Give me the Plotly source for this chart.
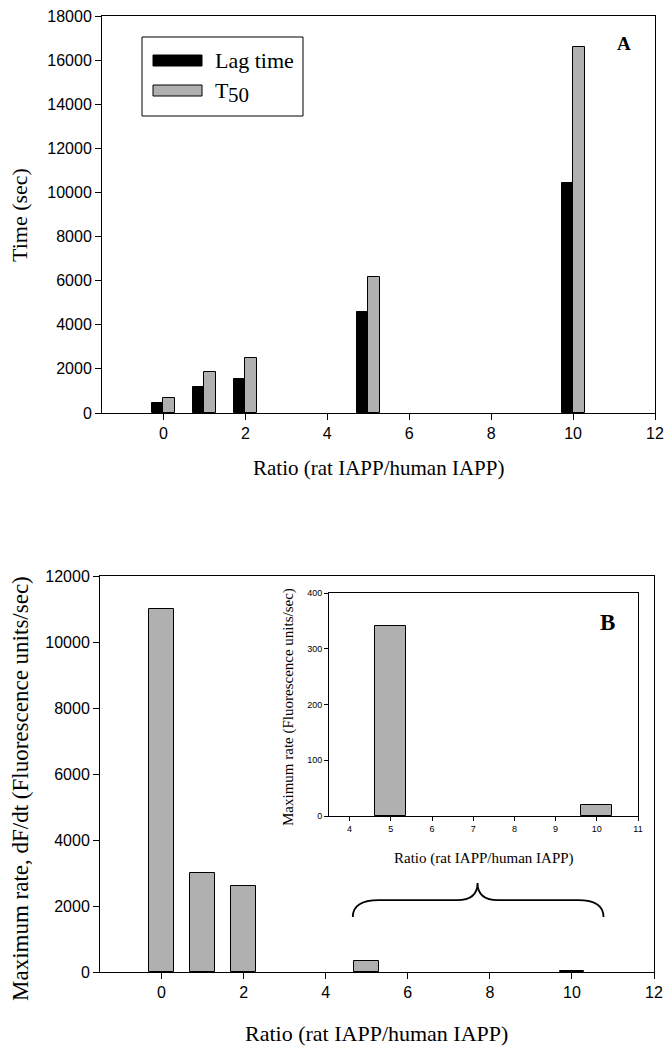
import plotly.graph_objects as go

# panel A data
ratios_a = [0, 1, 2, 5, 10]
lag_time = [470, 1180, 1540, 4600, 10420]
t50 = [680, 1860, 2490, 6150, 16600]

# panel B data
ratios_b = [0, 1, 2, 5, 10]
max_rate = [11000, 3000, 2600, 340, 20]

# inset data
ratios_inset = [5, 10]
max_rate_inset = [340, 20]

W, H = 672, 1050
SANS = "Liberation Sans, Arial, sans-serif"
SERIF = "Liberation Serif, Times New Roman, serif"
GRAY = "#b0b0b0"


def px(x):
    return x / W


def py(y):
    return 1 - y / H


fig = go.Figure()

fig.add_trace(go.Bar(
    x=ratios_a, y=lag_time, name="Lag time",
    width=0.28, offset=-0.28,
    marker=dict(color="black", line=dict(color="black", width=1)),
    xaxis="x", yaxis="y", showlegend=False
))
fig.add_trace(go.Bar(
    x=ratios_a, y=t50, name="T50",
    width=0.28, offset=0,
    marker=dict(color=GRAY, line=dict(color="black", width=1)),
    xaxis="x", yaxis="y", showlegend=False
))
fig.add_trace(go.Bar(
    x=ratios_b, y=max_rate, width=0.6,
    marker=dict(color=GRAY, line=dict(color="black", width=1)),
    xaxis="x2", yaxis="y2", showlegend=False
))
fig.add_trace(go.Bar(
    x=ratios_inset, y=max_rate_inset, width=0.75,
    marker=dict(color=GRAY, line=dict(color="black", width=1)),
    xaxis="x3", yaxis="y3", showlegend=False
))

axis_style = dict(
    showline=True, linecolor="black", linewidth=1, mirror=True,
    ticks="outside", ticklen=6, tickcolor="black",
    showgrid=False, zeroline=False, automargin=False,
    tickformat="d",
    tickfont=dict(family=SANS, size=16, color="black"),
)
inset_style = dict(axis_style, ticklen=4,
                   tickfont=dict(family=SANS, size=9, color="black"))

fig.update_layout(
    width=W, height=H,
    margin=dict(l=0, r=0, t=0, b=0, pad=0),
    paper_bgcolor="white", plot_bgcolor="white",
    bargap=0,
    xaxis=dict(axis_style, domain=[px(102), px(655)], range=[-1.5, 12],
               tickvals=[0, 2, 4, 6, 8, 10, 12], anchor="y"),
    yaxis=dict(axis_style, domain=[py(413), py(16)], range=[0, 18000],
               dtick=2000, anchor="x"),
    xaxis2=dict(axis_style, domain=[px(100), px(654)], range=[-1.5, 12],
                tickvals=[0, 2, 4, 6, 8, 10, 12], anchor="y2"),
    yaxis2=dict(axis_style, domain=[py(972), py(576)], range=[0, 12000],
                dtick=2000, anchor="x2"),
    xaxis3=dict(inset_style, domain=[px(329), px(638)], range=[3.5, 11],
                dtick=1, anchor="y3"),
    yaxis3=dict(inset_style, domain=[py(816), py(593)], range=[0, 400],
                dtick=100, anchor="x3"),
)

annotations = [
    dict(x=px(378), y=py(468), text="Ratio (rat IAPP/human IAPP)",
         font=dict(family=SERIF, size=21)),
    dict(x=px(20), y=py(215), text="Time (sec)", textangle=-90,
         font=dict(family=SERIF, size=22)),
    dict(x=px(376), y=py(1033), text="Ratio (rat IAPP/human IAPP)",
         font=dict(family=SERIF, size=22)),
    dict(x=px(20), y=py(789), text="Maximum rate, dF/dt (Fluorescence units/sec)",
         textangle=-90, font=dict(family=SERIF, size=23)),
    dict(x=px(484), y=py(858), text="Ratio (rat IAPP/human IAPP)",
         font=dict(family=SERIF, size=15)),
    dict(x=px(288), y=py(707), text="Maximum rate (Fluorescence units/sec)",
         textangle=-90, font=dict(family=SERIF, size=15)),
    dict(x=px(624), y=py(44), text="<b>A</b>", font=dict(family=SERIF, size=19)),
    dict(x=px(607), y=py(622), text="<b>B</b>", font=dict(family=SERIF, size=23)),
    dict(x=px(213), y=py(61), text="Lag time", xanchor="left",
         font=dict(family=SERIF, size=22)),
    dict(x=px(213), y=py(90), text="T", xanchor="left",
         font=dict(family=SERIF, size=22)),
    dict(x=px(226), y=py(95), text="50", xanchor="left",
         font=dict(family=SERIF, size=21)),
]
for a in annotations:
    a.setdefault("xanchor", "center")
    fig.add_annotation(xref="paper", yref="paper", showarrow=False,
                       yanchor="middle", font_color="black", **a)

# legend box and swatches
fig.add_shape(type="rect", xref="paper", yref="paper",
              x0=px(142), x1=px(303), y0=py(116), y1=py(37),
              line=dict(color="black", width=1), fillcolor="white", layer="below")
fig.add_shape(type="rect", xref="paper", yref="paper",
              x0=px(153), x1=px(202), y0=py(66), y1=py(55),
              line=dict(color="black", width=1), fillcolor="black")
fig.add_shape(type="rect", xref="paper", yref="paper",
              x0=px(153), x1=px(202), y0=py(96), y1=py(85),
              line=dict(color="black", width=1), fillcolor=GRAY)

# curly brace under the inset
fig.add_shape(type="path", xref="x2", yref="y2",
              path="M 4.66,1670 Q 4.66,2180 5.3,2180 L 7.2,2180 "
                   "Q 7.7,2180 7.7,2700 Q 7.7,2180 8.2,2180 "
                   "L 10.15,2180 Q 10.77,2180 10.77,1670",
              line=dict(color="black", width=1.8))

# drop the default page margin so the figure sits at the window origin
fig.write_html("out.html",
               config={"displayModeBar": False},
               post_script="document.body.style.margin = '0';")
